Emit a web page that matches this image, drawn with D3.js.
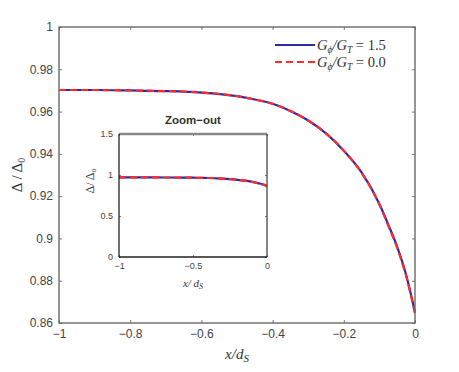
<!DOCTYPE html>
<html>
<head>
<meta charset="utf-8">
<script src="https://cdn.jsdelivr.net/npm/d3@7"></script>
<style>
  body { margin: 0; background: #fff; }
  .tick text { font-family: "Liberation Sans", Arial, sans-serif; fill: #444; }
  .math { font-family: "Liberation Serif", "DejaVu Serif", serif; font-style: italic; fill: #333; }
  .up { font-style: normal; }
</style>
</head>
<body>
<div id="chart"></div>
<script>
// values
var xVals = [-1, -0.9, -0.8, -0.7, -0.6, -0.5, -0.45, -0.4, -0.35, -0.3, -0.25, -0.2, -0.15, -0.1, -0.075, -0.05, -0.025, 0];
var series15 = [0.9702, 0.9702, 0.9700, 0.9697, 0.9690, 0.9673, 0.9657, 0.9637, 0.9603, 0.9558, 0.9497, 0.9415, 0.9312, 0.9163, 0.9065, 0.8960, 0.8828, 0.8650];
var series00 = [0.9702, 0.9702, 0.9700, 0.9697, 0.9690, 0.9673, 0.9657, 0.9637, 0.9603, 0.9558, 0.9497, 0.9415, 0.9310, 0.9160, 0.9060, 0.8955, 0.8822, 0.8645];
var xTicks = [-1, -0.8, -0.6, -0.4, -0.2, 0];
var yTicks = [0.86, 0.88, 0.9, 0.92, 0.94, 0.96, 0.98, 1];
var insetXTicks = [-1, -0.5, 0];
var insetYTicks = [0, 0.5, 1, 1.5];

var W = 459, H = 372;
var svg = d3.select("#chart").append("svg").attr("width", W).attr("height", H);

var blue = "#2b2ba6", red = "#ff2a2a";
var fmt = function(d) { return d3.format("")(d).replace("-", "\u2212"); };

// ---- main axes ----
var m = { left: 59, top: 27, right: 415, bottom: 323 };
var x = d3.scaleLinear().domain([-1, 0]).range([m.left, m.right]);
var y = d3.scaleLinear().domain([0.86, 1]).range([m.bottom, m.top]);

function drawAxes(g, xs, ys, xt, yt, fs, tickLen, col) {
  g.append("g").attr("transform", "translate(0," + ys.range()[0] + ")")
    .call(d3.axisBottom(xs).tickValues(xt).tickSize(-tickLen).tickPadding(6).tickFormat(fmt))
    .call(function(a) { a.select(".domain").remove(); a.selectAll("line").attr("stroke", col); a.selectAll("text").attr("font-size", fs); });
  g.append("g").attr("transform", "translate(0," + ys.range()[1] + ")")
    .call(d3.axisTop(xs).tickValues(xt).tickSize(-tickLen).tickFormat(""))
    .call(function(a) { a.select(".domain").remove(); a.selectAll("line").attr("stroke", col); });
  g.append("g").attr("transform", "translate(" + xs.range()[0] + ",0)")
    .call(d3.axisLeft(ys).tickValues(yt).tickSize(-tickLen).tickPadding(6).tickFormat(fmt))
    .call(function(a) { a.select(".domain").remove(); a.selectAll("line").attr("stroke", col); a.selectAll("text").attr("font-size", fs); });
  g.append("g").attr("transform", "translate(" + xs.range()[1] + ",0)")
    .call(d3.axisRight(ys).tickValues(yt).tickSize(-tickLen).tickFormat(""))
    .call(function(a) { a.select(".domain").remove(); a.selectAll("line").attr("stroke", col); });
}

var main = svg.append("g");
drawAxes(main, x, y, xTicks, yTicks, 12, 3, "#777");

var pts15 = xVals.map(function(d, i) { return [d, series15[i]]; });
var pts00 = xVals.map(function(d, i) { return [d, series00[i]]; });

var line = d3.line().x(function(d) { return x(d[0]); }).y(function(d) { return y(d[1]); }).curve(d3.curveMonotoneX);
main.append("path").attr("d", line(pts15)).attr("fill", "none").attr("stroke", blue).attr("stroke-width", 2.2);
main.append("path").attr("d", line(pts00)).attr("fill", "none").attr("stroke", red).attr("stroke-width", 2.2).attr("stroke-dasharray", "7,4");

// box
main.append("rect").attr("x", m.left).attr("y", m.top).attr("width", m.right - m.left).attr("height", m.bottom - m.top)
  .attr("fill", "none").attr("stroke", "#6a6a6a").attr("stroke-width", 1.4);

// main labels
main.append("text").attr("class", "math").attr("x", (m.left + m.right) / 2).attr("y", 359)
  .attr("text-anchor", "middle").attr("font-size", 15)
  .html('x/d<tspan font-size="11" dy="3">S</tspan>');
main.append("text").attr("class", "math up").attr("transform", "translate(22," + ((m.top + m.bottom) / 2) + ") rotate(-90)")
  .attr("text-anchor", "middle").attr("font-size", 15)
  .html('\u0394 / \u0394<tspan font-size="10" dy="3">0</tspan>');

// legend
var leg = [{ label: "1.5", color: blue, dash: null, y: 45 }, { label: "0.0", color: red, dash: "7,4", y: 62 }];
leg.forEach(function(d) {
  main.append("line").attr("x1", 275).attr("x2", 315).attr("y1", d.y).attr("y2", d.y)
    .attr("stroke", d.color).attr("stroke-width", 2.2).attr("stroke-dasharray", d.dash);
  main.append("text").attr("class", "math").attr("x", 317).attr("y", d.y + 5).attr("font-size", 14.5)
    .html('G<tspan font-size="9.5" dy="3">\u03d5</tspan><tspan dy="-3">/G</tspan><tspan font-size="9.5" dy="3">T</tspan><tspan dy="-3" class="up">\u00a0=\u00a0' + d.label + '</tspan>');
});

// ---- inset ----
var n = { left: 119, top: 134, right: 267, bottom: 257 };
var xi = d3.scaleLinear().domain([-1, 0]).range([n.left, n.right]);
var yi = d3.scaleLinear().domain([0, 1.5]).range([n.bottom, n.top]);
var ins = svg.append("g");
ins.append("rect").attr("x", n.left).attr("y", n.top).attr("width", n.right - n.left).attr("height", n.bottom - n.top).attr("fill", "#fff");
drawAxes(ins, xi, yi, insetXTicks, insetYTicks, 9, 2, "#777");

var linei = d3.line().x(function(d) { return xi(d[0]); }).y(function(d) { return yi(d[1]); }).curve(d3.curveMonotoneX);
ins.append("path").attr("d", linei(pts15)).attr("fill", "none").attr("stroke", blue).attr("stroke-width", 2.2);
ins.append("path").attr("d", linei(pts00)).attr("fill", "none").attr("stroke", red).attr("stroke-width", 2.2).attr("stroke-dasharray", "7,4");

ins.append("line").attr("x1", n.left).attr("x2", n.right).attr("y1", n.top).attr("y2", n.top).attr("stroke", "#888").attr("stroke-width", 2.5);
ins.append("line").attr("x1", n.right).attr("x2", n.right).attr("y1", n.top).attr("y2", n.bottom).attr("stroke", "#444").attr("stroke-width", 1.3);
ins.append("line").attr("x1", n.left).attr("x2", n.left).attr("y1", n.top).attr("y2", n.bottom).attr("stroke", "#222").attr("stroke-width", 1.3);
ins.append("line").attr("x1", n.left).attr("x2", n.right).attr("y1", n.bottom).attr("y2", n.bottom).attr("stroke", "#222").attr("stroke-width", 1.3);

ins.append("text").attr("x", (n.left + n.right) / 2).attr("y", 124).attr("text-anchor", "middle")
  .attr("font-family", "Liberation Sans, Arial, sans-serif").attr("font-weight", "bold").attr("font-size", 11.5).attr("fill", "#333")
  .text("Zoom\u2212out");
ins.append("text").attr("class", "math").attr("x", (n.left + n.right) / 2).attr("y", 287)
  .attr("text-anchor", "middle").attr("font-size", 11)
  .html('x/ d<tspan font-size="8" dy="2">S</tspan>');
ins.append("text").attr("class", "math up").attr("transform", "translate(94,181) rotate(-90)")
  .attr("text-anchor", "middle").attr("font-size", 12)
  .html('\u0394/ \u0394<tspan font-size="8" dy="2">o</tspan>');
</script>
</body>
</html>
